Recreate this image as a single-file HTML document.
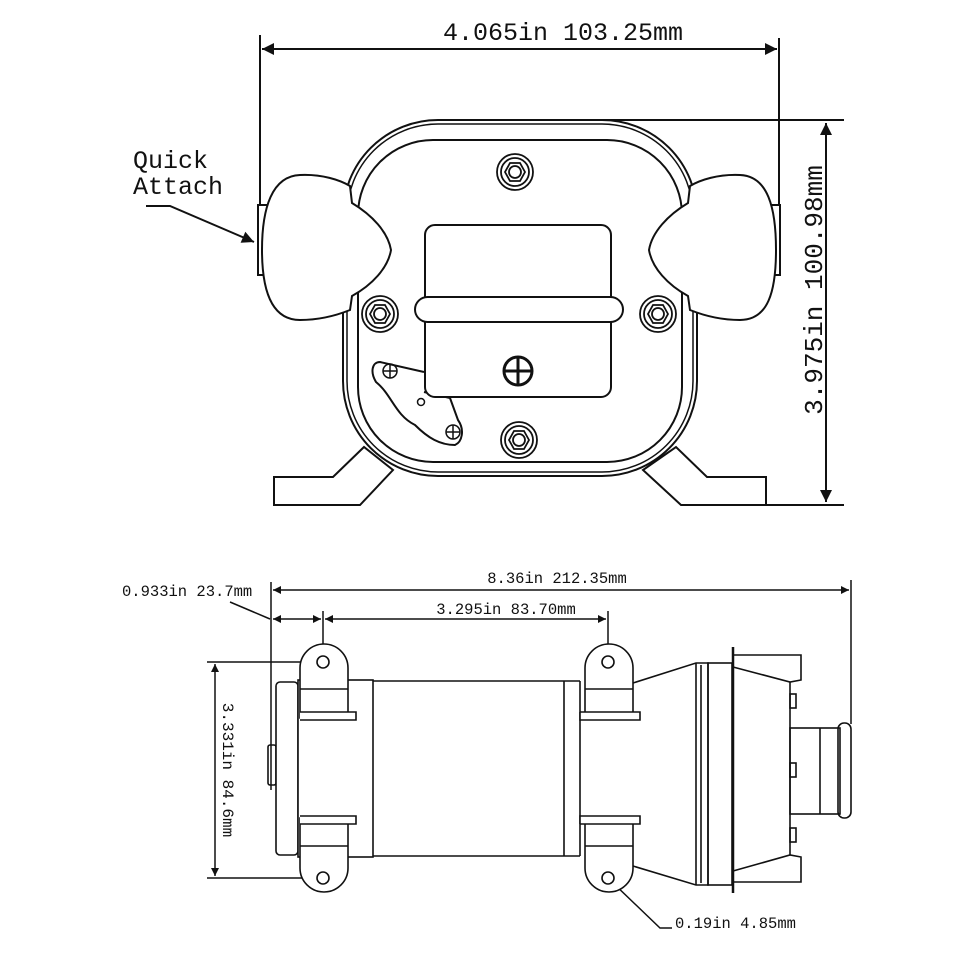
<!DOCTYPE html>
<html><head><meta charset="utf-8"><style>
html,body{margin:0;padding:0;background:#fff}
svg{display:block}
text{font-family:"Liberation Mono","DejaVu Sans Mono",monospace;fill:#111}
</style></head><body>
<svg width="974" height="974" viewBox="0 0 974 974" xmlns="http://www.w3.org/2000/svg">
<defs>
<marker id="a" viewBox="0 0 10 10" refX="10" refY="5" markerWidth="10" markerHeight="8" orient="auto-start-reverse" markerUnits="userSpaceOnUse"><path d="M0,0 L10,5 L0,10 Z" fill="#111"/></marker>
<marker id="b" viewBox="0 0 10 10" refX="10" refY="5" markerWidth="16" markerHeight="12" orient="auto-start-reverse" markerUnits="userSpaceOnUse"><path d="M0,0 L10,5 L0,10 Z" fill="#111"/></marker>
</defs>
<g stroke="#111" fill="none" stroke-width="2">
<!-- TOP VIEW dims -->
<line x1="260" y1="35" x2="260" y2="245"/>
<line x1="779" y1="38" x2="779" y2="275"/>
<line x1="262" y1="49" x2="777" y2="49" marker-start="url(#b)" marker-end="url(#b)"/>
<line x1="600" y1="120" x2="844" y2="120"/>
<line x1="765" y1="505" x2="844" y2="505"/>
<line x1="826" y1="123" x2="826" y2="502" marker-start="url(#b)" marker-end="url(#b)"/>
<polyline points="146,206 170,206 254,242" marker-end="url(#b)"/>
<!-- feet -->
<polygon points="274,477 333,477 364,447 393,470 360,505 274,505" fill="#fff"/>
<polygon points="766,477 707,477 676,447 643,470 681,505 766,505" fill="#fff"/>
<!-- housing -->
<rect x="343" y="120" width="354" height="356" rx="95" fill="#fff"/>
<rect x="347" y="124" width="346" height="348" rx="91" stroke-width="1.5"/>
<rect x="358" y="140" width="324" height="322" rx="75"/>
<!-- side tabs -->
<rect x="258" y="205" width="10" height="70" fill="#fff"/>
<rect x="770" y="205" width="10" height="70" fill="#fff"/>
<!-- knobs -->
<path d="M300,175 C322,174 340,180 350,186 L352,203 C372,215 388,232 391,250 C388,268 372,285 352,296 L350,310 C335,316 318,320 300,320 C272,320 262,292 262,250 C262,208 272,176 300,175 Z" fill="#fff"/>
<path d="M740,175 C718,174 700,180 690,186 L688,203 C668,215 652,232 649,250 C652,268 668,285 688,296 L690,310 C705,316 722,320 740,320 C768,320 776,292 776,250 C776,208 768,176 740,175 Z" fill="#fff"/>
<!-- plate -->
<path d="M424,372 L380,362 C372,362 370,372 376,382 C392,395 395,415 415,425 C428,438 440,445 455,445 C462,442 465,430 458,420 L450,398 L424,392" fill="#fff"/>
<rect x="425" y="225" width="186" height="172" rx="10" fill="#fff"/>
<rect x="415" y="297" width="208" height="25" rx="12.5" fill="#fff"/>
<!-- nuts -->
<g stroke-width="1.8">
<circle cx="515" cy="172" r="18"/><circle cx="515" cy="172" r="14"/><polygon points="525,172 520,163 510,163 505,172 510,181 520,181"/><circle cx="515" cy="172" r="6"/>
<circle cx="380" cy="314" r="18"/><circle cx="380" cy="314" r="14"/><polygon points="390,314 385,305 375,305 370,314 375,323 385,323"/><circle cx="380" cy="314" r="6"/>
<circle cx="658" cy="314" r="18"/><circle cx="658" cy="314" r="14"/><polygon points="668,314 663,305 653,305 648,314 653,323 663,323"/><circle cx="658" cy="314" r="6"/>
<circle cx="519" cy="440" r="18"/><circle cx="519" cy="440" r="14"/><polygon points="529,440 524,431 514,431 509,440 514,449 524,449"/><circle cx="519" cy="440" r="6"/>
</g>
<circle cx="518" cy="371" r="14" stroke-width="3"/>
<line x1="504" y1="371" x2="532" y2="371" stroke-width="3"/><line x1="518" y1="357" x2="518" y2="385" stroke-width="3"/>
<g stroke-width="1.5">
<circle cx="390" cy="371" r="7"/><line x1="383" y1="371" x2="397" y2="371"/><line x1="390" y1="364" x2="390" y2="378"/>
<circle cx="453" cy="432" r="7"/><line x1="446" y1="432" x2="460" y2="432"/><line x1="453" y1="425" x2="453" y2="439"/>
<circle cx="421" cy="402" r="3.5"/>
</g>

<!-- BOTTOM VIEW dims -->
<g stroke-width="1.5">
<line x1="271" y1="582" x2="271" y2="790"/>
<line x1="851" y1="580" x2="851" y2="724"/>
<line x1="273" y1="590" x2="849" y2="590" marker-start="url(#a)" marker-end="url(#a)"/>
<line x1="273" y1="619" x2="321" y2="619" marker-start="url(#a)" marker-end="url(#a)"/>
<line x1="325" y1="619" x2="606" y2="619" marker-start="url(#a)" marker-end="url(#a)"/>
<line x1="323" y1="611" x2="323" y2="656"/>
<line x1="608" y1="611" x2="608" y2="656"/>
<line x1="230" y1="602" x2="270" y2="619"/>
<line x1="207" y1="662" x2="318" y2="662"/>
<line x1="207" y1="878" x2="318" y2="878"/>
<line x1="215" y1="664" x2="215" y2="876" marker-start="url(#a)" marker-end="url(#a)"/>
<polyline points="611,881 660,928 672,928" marker-start="url(#a)"/>
</g>
<g stroke-width="1.6">
<!-- end cap -->
<rect x="268" y="745" width="8" height="40" rx="2"/>
<rect x="276" y="682" width="22" height="173" rx="4" fill="#fff"/>
<rect x="298" y="680" width="75" height="177" fill="#fff"/>
<line x1="373" y1="681" x2="580" y2="681"/><line x1="373" y1="856" x2="580" y2="856"/>
<line x1="564" y1="681" x2="564" y2="856"/><line x1="580" y1="681" x2="580" y2="856"/>
<!-- cone -->
<path d="M633,683 L696,663 L708,663 L708,885 L696,885 L633,866"/>
<line x1="696" y1="663" x2="696" y2="885"/><line x1="701" y1="665" x2="701" y2="883"/>
<rect x="708" y="663" width="24" height="222"/>
<line x1="733" y1="647" x2="733" y2="893" stroke-width="2.5"/>
<path d="M733,655 L801,655 L801,680 L790,682 L733,667"/>
<path d="M733,882 L801,882 L801,857 L790,855 L733,871"/>
<line x1="790" y1="682" x2="790" y2="855"/>
<rect x="790" y="728" width="50" height="86"/><line x1="820" y1="728" x2="820" y2="814"/>
<rect x="838" y="723" width="13" height="95" rx="6"/>
<rect x="790" y="694" width="6" height="14"/><rect x="790" y="763" width="6" height="14"/><rect x="790" y="828" width="6" height="14"/>
<!-- brackets -->
<g fill="#fff">
<path d="M300,718 L300,668 A24,24 0 0 1 348,668 L348,718 Z"/>
<polyline points="300,712 356,712 356,720 300,720"/>
<line x1="300" y1="689" x2="348" y2="689"/>
<path d="M300,818 L300,868 A24,24 0 0 0 348,868 L348,818 Z"/>
<polyline points="300,824 356,824 356,816 300,816"/>
<line x1="300" y1="846" x2="348" y2="846"/>
<path d="M585,718 L585,668 A24,24 0 0 1 633,668 L633,718 Z"/>
<polyline points="580,712 640,712 640,720 580,720 580,712"/>
<line x1="585" y1="689" x2="633" y2="689"/>
<path d="M585,818 L585,868 A24,24 0 0 0 633,868 L633,818 Z"/>
<polyline points="580,824 640,824 640,816 580,816 580,824"/>
<line x1="585" y1="846" x2="633" y2="846"/>
</g>
<circle cx="323" cy="662" r="6"/><circle cx="323" cy="878" r="6"/>
<circle cx="608" cy="662" r="6"/><circle cx="608" cy="878" r="6"/>
</g>
</g>
<text x="563" y="40" font-size="25" text-anchor="middle">4.065in 103.25mm</text>
<text x="133" y="168" font-size="25">Quick</text>
<text x="133" y="194" font-size="25">Attach</text>
<text transform="translate(822,290) rotate(-90)" font-size="26" text-anchor="middle">3.975in 100.98mm</text>
<text x="557" y="583" font-size="15.5" text-anchor="middle">8.36in 212.35mm</text>
<text x="122" y="596" font-size="15.5">0.933in 23.7mm</text>
<text x="506" y="614" font-size="15.5" text-anchor="middle">3.295in 83.70mm</text>
<text x="675" y="928" font-size="15.5">0.19in 4.85mm</text>
<text transform="translate(223,770) rotate(90)" font-size="16" text-anchor="middle">3.331in 84.6mm</text>
</svg>
</body></html>
